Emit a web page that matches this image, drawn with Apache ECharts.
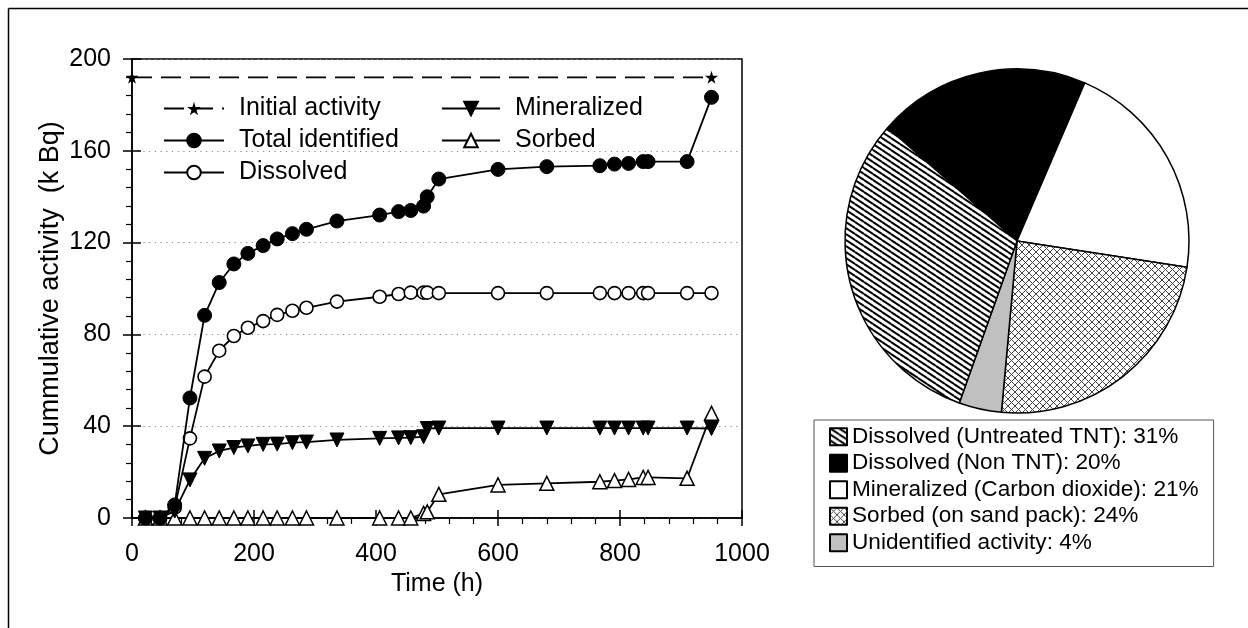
<!DOCTYPE html>
<html>
<head>
<meta charset="utf-8">
<script src="https://cdn.jsdelivr.net/npm/echarts@6/dist/echarts.min.js"></script>
<style>
html,body{margin:0;padding:0;background:#fff;}
#chart{width:1248px;height:628px;}
</style>
</head>
<body>
<div id="chart"></div>
<script>
// ---------- DATA ----------
const times = [22,46,70,95,119,143,167,190,215,238,263,286,336,406,437,457,478,484,503,600,680,767,791,814,838,846,910,950];
const totalIdentified = [0,0,5.7,52.3,88.3,102.6,110.7,115.3,118.7,121.6,123.9,125.8,129.4,132,133.5,134,135.9,140,147.7,151.9,153.1,153.5,154.2,154.5,155.3,155.3,155.3,183.3];
const dissolved = [0,0,4.5,34.7,61.6,72.9,79.3,82.9,85.8,88.5,90.3,91.6,94.3,96.4,97.6,98.2,98.2,98.2,98,98,98,98,98,98,98,98,98,98];
const mineralized = [0,0,3,16.6,26,29.2,30.7,31.4,32.1,32.2,32.8,33.1,34,34.7,34.9,35,35.4,39,39.2,39.2,39.2,39.2,39.2,39.2,39.2,39.2,39.2,39];
const sorbed = [0,0,0,0,0,0,0,0,0,0,0,0,0,0,0,0,2,2.7,10.3,14.4,15.1,15.8,16.3,16.8,17.7,17.7,17.3,45.6];
const initialTimes = [0,950];
const initialActivity = [192,192];

const pieNames = ['Dissolved (Non TNT)','Mineralized (Carbon dioxide)','Sorbed (on sand pack)','Unidentified activity','Dissolved (Untreated TNT)'];
const pieValues = [20,21,24,4,31];
const pieLegendOrder = ['Dissolved (Untreated TNT)','Dissolved (Non TNT)','Mineralized (Carbon dioxide)','Sorbed (on sand pack)','Unidentified activity'];

const xTicks = [0,200,400,600,800,1000];
const yTicks = [0,40,80,120,160,200];

// ---------- HELPERS ----------
const FONT = '"Liberation Sans", Arial, sans-serif';
function pairs(xs, ys){ return xs.map((x,i)=>[x, ys[i]]); }

function hatchPattern(){
  const c = document.createElement('canvas');
  const W = 9, H = 6;
  c.width = W; c.height = H;
  const g = c.getContext('2d');
  g.fillStyle = '#fff'; g.fillRect(0,0,W,H);
  g.strokeStyle = '#000'; g.lineWidth = 2;
  for (const [dx,dy] of [[0,0],[W,0],[-W,0],[0,H],[0,-H]]) {
    g.beginPath(); g.moveTo(dx, dy); g.lineTo(dx+W, dy+H); g.stroke();
  }
  return {image: c, repeat: 'repeat'};
}
function crossPattern(){
  const c = document.createElement('canvas');
  const S = 7;
  c.width = S; c.height = S;
  const g = c.getContext('2d');
  g.fillStyle = '#fff'; g.fillRect(0,0,S,S);
  g.strokeStyle = '#444'; g.lineWidth = 1;
  g.beginPath(); g.moveTo(0,0); g.lineTo(S,S); g.stroke();
  g.beginPath(); g.moveTo(S,0); g.lineTo(0,S); g.stroke();
  return {image: c, repeat: 'repeat'};
}
const pieColors = {
  'Dissolved (Non TNT)': '#000000',
  'Mineralized (Carbon dioxide)': '#ffffff',
  'Sorbed (on sand pack)': crossPattern(),
  'Unidentified activity': '#c0c0c0',
  'Dissolved (Untreated TNT)': hatchPattern()
};

const STAR = 'path://M50,0 L61,35 L98,35 L68,57 L79,91 L50,70 L21,91 L32,57 L2,35 L39,35 Z';
const lineBase = {type:'line', xAxisIndex:0, yAxisIndex:0, lineStyle:{color:'#000', width:1.8}, animation:false};

const chart = echarts.init(document.getElementById('chart'), null, {renderer:'canvas'});

const axisCommonX = {type:'value', min:0, max:1000, interval:200, gridIndex:0};
const axisCommonY = {type:'value', min:0, max:200, interval:40, gridIndex:0};

const option = {
  backgroundColor:'#fff',
  animation:false,
  textStyle:{fontFamily:FONT, color:'#000'},
  graphic:[
    {type:'line', shape:{x1:8.5,y1:8.5,x2:1248,y2:8.5}, style:{stroke:'#000', lineWidth:1.5}},
    {type:'line', shape:{x1:8.5,y1:8.5,x2:8.5,y2:628}, style:{stroke:'#000', lineWidth:1.5}}
  ],
  grid:[{left:132, top:59, width:610, height:459, show:true, borderColor:'#000', borderWidth:1.5, backgroundColor:'transparent'}],
  xAxis:[
    Object.assign({}, axisCommonX, {
      position:'bottom',
      axisLine:{show:true, lineStyle:{color:'#000', width:1.5}},
      axisTick:{show:true, inside:false, length:8, lineStyle:{color:'#000', width:1.5}},
      minorTick:{show:true, splitNumber:5, length:6, lineStyle:{color:'#000', width:1.2}},
      axisLabel:{show:true, fontSize:25, color:'#000', margin:24, fontFamily:FONT,
        formatter:(v)=> xTicks.includes(v) ? String(v) : ''},
      splitLine:{show:false},
      name:'Time (h)', nameLocation:'middle', nameGap:45,
      nameTextStyle:{fontSize:25, color:'#000', fontFamily:FONT}
    }),
    Object.assign({}, axisCommonX, {
      position:'bottom',
      axisLine:{show:false},
      axisTick:{show:true, inside:true, length:8, lineStyle:{color:'#000', width:1.5}},
      axisLabel:{show:false},
      splitLine:{show:false}
    })
  ],
  yAxis:[
    Object.assign({}, axisCommonY, {
      position:'left',
      axisLine:{show:true, lineStyle:{color:'#000', width:1.5}},
      axisTick:{show:true, inside:false, length:9, lineStyle:{color:'#000', width:1.5}},
      minorTick:{show:true, splitNumber:5, length:6, lineStyle:{color:'#000', width:1.2}},
      axisLabel:{show:true, fontSize:25, color:'#000', margin:21, fontFamily:FONT,
        formatter:(v)=> yTicks.includes(v) ? String(v) : ''},
      splitLine:{show:true, lineStyle:{color:'#888', width:1.2, type:[1.2,4.5]}},
      name:'Cummulative activity  (k Bq)', nameLocation:'middle', nameGap:68,
      nameTextStyle:{fontSize:27, color:'#000', fontFamily:FONT}
    }),
    Object.assign({}, axisCommonY, {
      position:'left',
      axisLine:{show:false},
      axisTick:{show:true, inside:true, length:9, lineStyle:{color:'#000', width:1.5}},
      axisLabel:{show:false},
      splitLine:{show:false}
    })
  ],
  legend:[
    {
      data:['Initial activity','Total identified','Dissolved'],
      orient:'vertical', left:163, top:96, padding:0,
      itemWidth:60, itemHeight:17, itemGap:7,
      textStyle:{fontSize:25, color:'#000', fontFamily:FONT, padding:[0,0,0,10]},
      selectedMode:false
    },
    {
      data:['Mineralized','Sorbed'],
      orient:'vertical', left:441, top:96, padding:0,
      itemWidth:58, itemHeight:17, itemGap:7,
      textStyle:{fontSize:25, color:'#000', fontFamily:FONT, padding:[0,0,0,10]},
      selectedMode:false
    },
    {
      data:pieLegendOrder,
      orient:'vertical', left:814, top:420,
      padding:[5,15,12,15],
      borderColor:'#555', borderWidth:1,
      itemWidth:17, itemHeight:17, itemGap:3, icon:'rect',
      textStyle:{fontSize:22.6, color:'#000', fontFamily:FONT, lineHeight:23.5},
      formatter:(name)=> name + ': ' + pieValues[pieNames.indexOf(name)] + '%',
      selectedMode:false
    }
  ],
  series:[
    Object.assign({}, lineBase, {
      name:'Initial activity', data:pairs(initialTimes, initialActivity),
      symbol:STAR, symbolSize:13,
      lineStyle:{color:'#000', width:1.8, type:[20,9]},
      itemStyle:{color:'#000', borderColor:'#000', borderWidth:0},
      z:3
    }),
    Object.assign({}, lineBase, {
      name:'Total identified', data:pairs(times, totalIdentified),
      symbol:'circle', symbolSize:14,
      itemStyle:{color:'#000', borderColor:'#000', borderWidth:1},
      z:5
    }),
    Object.assign({}, lineBase, {
      name:'Dissolved', data:pairs(times, dissolved),
      symbol:'circle', symbolSize:13,
      itemStyle:{color:'#fff', borderColor:'#000', borderWidth:1.6},
      z:4
    }),
    Object.assign({}, lineBase, {
      name:'Mineralized', data:pairs(times, mineralized),
      symbol:'triangle', symbolRotate:180, symbolSize:14,
      itemStyle:{color:'#000', borderColor:'#000', borderWidth:1},
      z:4
    }),
    Object.assign({}, lineBase, {
      name:'Sorbed', data:pairs(times, sorbed),
      symbol:'triangle', symbolSize:14,
      itemStyle:{color:'#fff', borderColor:'#000', borderWidth:1.5},
      z:3
    }),
    {
      type:'pie', name:'Distribution', animation:false,
      center:[1017,241], radius:[0,172],
      startAngle:138.8, clockwise:true,
      label:{show:false}, labelLine:{show:false},
      emphasis:{disabled:true},
      itemStyle:{borderColor:'#000', borderWidth:1.5},
      data: pieNames.map((n,i)=>({name:n, value:pieValues[i], itemStyle:{color:pieColors[n]}}))
    }
  ]
};
chart.setOption(option);
</script>
</body>
</html>
